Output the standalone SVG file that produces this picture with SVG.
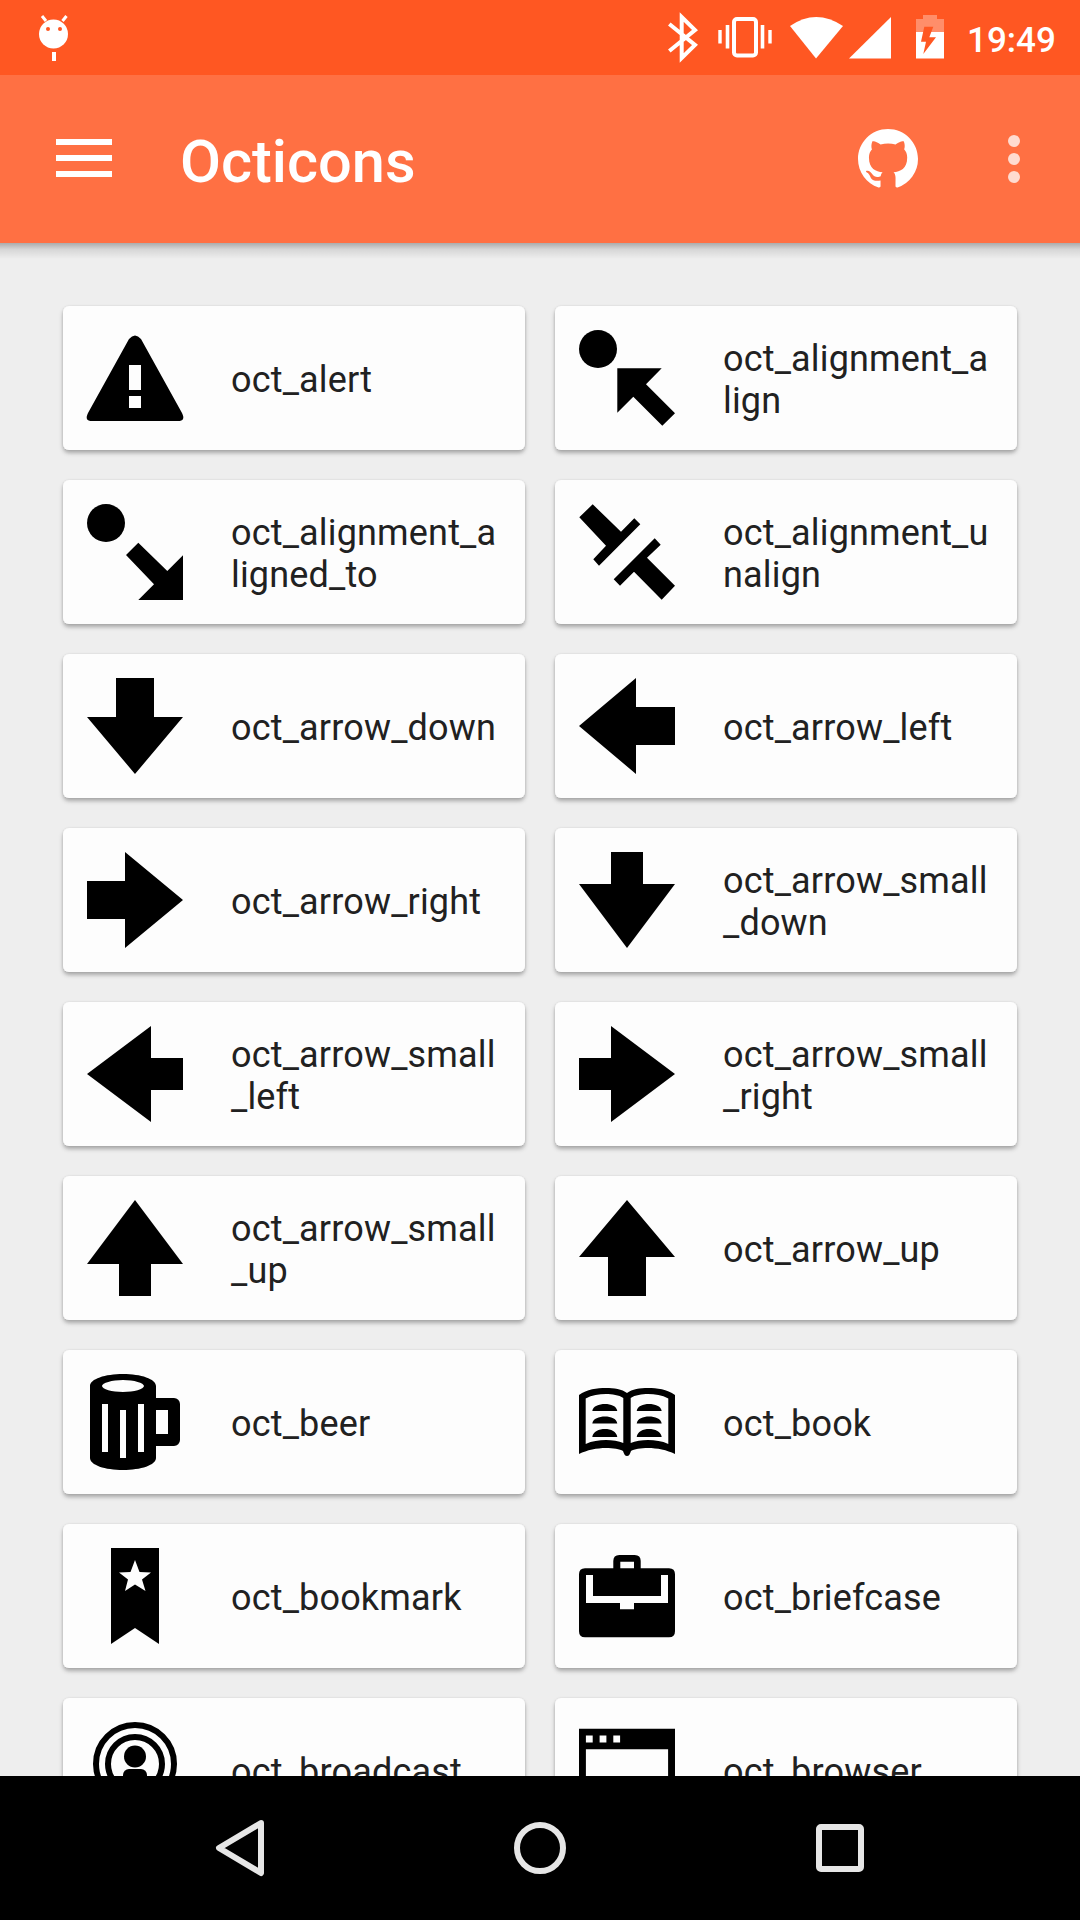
<svg xmlns="http://www.w3.org/2000/svg" width="1080" height="1920" viewBox="0 0 1080 1920">
<style>
.card{fill:#fdfdfd;filter:url(#cardShadow)}
.lbl{font-family:Roboto,"Liberation Sans",sans-serif;font-size:36px;letter-spacing:0.17px;fill:#212121}
.ink{fill:#000}
.paper{fill:#fdfdfd}
.w{fill:#fff}
.nav{fill:none;stroke:#e6e6e6;stroke-width:6}
</style>
<defs>
<filter id="cardShadow" x="-5%" y="-10%" width="110%" height="125%">
<feDropShadow dx="0" dy="3" stdDeviation="2.2" flood-color="#000" flood-opacity="0.28"/>
<feDropShadow dx="0" dy="0" stdDeviation="0.8" flood-color="#000" flood-opacity="0.1"/>
</filter>
<linearGradient id="barShadow" x1="0" y1="0" x2="0" y2="1">
<stop offset="0" stop-color="#000" stop-opacity="0.28"/>
<stop offset="0.4" stop-color="#000" stop-opacity="0.1"/>
<stop offset="1" stop-color="#000" stop-opacity="0"/>
</linearGradient>
</defs>

<rect width="1080" height="1920" fill="#eeeeee"/>

<g id="oct_alert"><rect class="card" x="63" y="306" width="462" height="144" rx="6"/>
<path class="ink" fill-rule="evenodd" transform="translate(87 330)" d="M42 9Q48 2 54 9L95 83Q99 91 91 91H5Q-3 91 1 83ZM42 35V60H54V35ZM42 66V78H54V66Z"/>
<text class="lbl" x="231" y="392">oct_alert</text></g>

<g id="oct_alignment_align"><rect class="card" x="555" y="306" width="462" height="144" rx="6"/>
<g transform="translate(579 330)"><circle class="ink" cx="19" cy="19" r="19"/><polygon class="ink" points="38.3,38.3 82.7,38.3 67,54.3 96,83.3 83.3,95.7 54.3,66.7 38.3,82.7"/></g>
<text class="lbl" x="723" y="371">oct_alignment_a</text><text class="lbl" x="723" y="413">lign</text></g>

<g id="oct_alignment_aligned_to"><rect class="card" x="63" y="480" width="462" height="144" rx="6"/>
<g transform="translate(87 504)"><circle class="ink" cx="19" cy="19" r="19"/><polygon class="ink" points="51.3,38.7 80.3,67 96,51.3 96,96 51.3,96 67,80.3 39,51"/></g>
<text class="lbl" x="231" y="545">oct_alignment_a</text><text class="lbl" x="231" y="587">ligned_to</text></g>

<g id="oct_alignment_unalign"><rect class="card" x="555" y="480" width="462" height="144" rx="6"/>
<g transform="translate(579 504)"><polygon class="ink" points="13.7,0.3 42,27.7 55.3,14.3 61.3,20.3 20,61.7 14.3,55.3 27,41.7 0.3,13.3"/><polygon class="ink" points="75.7,34.3 81.7,40.7 68,53.7 96,81.7 82.7,95.7 55,67.7 41,81.7 34.7,75.3"/></g>
<text class="lbl" x="723" y="545">oct_alignment_u</text><text class="lbl" x="723" y="587">nalign</text></g>

<g id="oct_arrow_down"><rect class="card" x="63" y="654" width="462" height="144" rx="6"/>
<polygon class="ink" transform="translate(87 678)" points="29,0 67,0 67,39 96,39 48,96 0,39 29,39"/>
<text class="lbl" x="231" y="740">oct_arrow_down</text></g>

<g id="oct_arrow_left"><rect class="card" x="555" y="654" width="462" height="144" rx="6"/>
<polygon class="ink" transform="translate(579 678)" points="0,48 57,0 57,29 96,29 96,67 57,67 57,96"/>
<text class="lbl" x="723" y="740">oct_arrow_left</text></g>

<g id="oct_arrow_right"><rect class="card" x="63" y="828" width="462" height="144" rx="6"/>
<polygon class="ink" transform="translate(87 852)" points="0,29 38,29 38,0 96,48 38,96 38,67 0,67"/>
<text class="lbl" x="231" y="914">oct_arrow_right</text></g>

<g id="oct_arrow_small_down"><rect class="card" x="555" y="828" width="462" height="144" rx="6"/>
<polygon class="ink" transform="translate(579 852)" points="32,0 64,0 64,32 96,32 48,96 0,32 32,32"/>
<text class="lbl" x="723" y="893">oct_arrow_small</text><text class="lbl" x="723" y="935">_down</text></g>

<g id="oct_arrow_small_left"><rect class="card" x="63" y="1002" width="462" height="144" rx="6"/>
<polygon class="ink" transform="translate(87 1026)" points="0,48 64,0 64,32 96,32 96,64 64,64 64,96"/>
<text class="lbl" x="231" y="1067">oct_arrow_small</text><text class="lbl" x="231" y="1109">_left</text></g>

<g id="oct_arrow_small_right"><rect class="card" x="555" y="1002" width="462" height="144" rx="6"/>
<polygon class="ink" transform="translate(579 1026)" points="0,32 32,32 32,0 96,48 32,96 32,64 0,64"/>
<text class="lbl" x="723" y="1067">oct_arrow_small</text><text class="lbl" x="723" y="1109">_right</text></g>

<g id="oct_arrow_small_up"><rect class="card" x="63" y="1176" width="462" height="144" rx="6"/>
<polygon class="ink" transform="translate(87 1200)" points="48,0 96,64 64,64 64,96 32,96 32,64 0,64"/>
<text class="lbl" x="231" y="1241">oct_arrow_small</text><text class="lbl" x="231" y="1283">_up</text></g>

<g id="oct_arrow_up"><rect class="card" x="555" y="1176" width="462" height="144" rx="6"/>
<polygon class="ink" transform="translate(579 1200)" points="48,0 96,57 67,57 67,96 29,96 29,57 0,57"/>
<text class="lbl" x="723" y="1262">oct_arrow_up</text></g>

<g id="oct_beer"><rect class="card" x="63" y="1350" width="462" height="144" rx="6"/>
<path class="ink" fill-rule="evenodd" transform="translate(87 1374)" d="M3 12C3 5 18 0 36 0S69 5 69 12V24H87A6 6 0 0 1 93 30V66A6 6 0 0 1 87 72H69V84C69 91 54 96 36 96S3 91 3 84ZM15 12C15 15 25 18 36 18S57 15 57 12 47 6 36 6 15 9 15 12ZM15 30V78H21V30ZM33 36V84H39V36ZM51 30V78H57V30ZM69 36V60H81V36Z"/>
<text class="lbl" x="231" y="1436">oct_beer</text></g>

<g id="oct_book"><rect class="card" x="555" y="1350" width="462" height="144" rx="6"/>
<g transform="translate(579 1374)">
<path class="ink" fill-rule="evenodd" d="M0 21C8 15 18 14 27 14 35 14 43 15 48 19 53 15 61 14 69 14 78 14 88 15 96 21V80C88 76 78 74 69 74 62 74 55 75 52 77 51 80 50 82 48 82 46 82 45 80 44 77 41 75 34 74 27 74 18 74 8 76 0 80ZM6.700 24.500V70C13 67 20 66 27 66 33 66 40 67 44.300 69V24C40 21 33 20 27 20 20 20 13 21 6.700 24.500ZM51.700 24V69C56 67 63 66 69 66 76 66 83 67 89.300 70V24.500C83 21 76 20 69 20 63 20 56 21 51.700 24Z"/>
<path class="ink" d="M13.300 37C14 32 20 30 26 30S37.500 32 38.300 37ZM13.300 49.500C14 44.500 20 42.500 26 42.500S37.500 44.500 38.300 49.500ZM13.300 63C14 57.500 20 55 26 55S37.500 57.500 38.300 63ZM57.700 37C58.500 32 64 30 70 30S82 32 82.700 37ZM57.700 49.500C58.500 44.500 64 42.500 70 42.500S82 44.500 82.700 49.500ZM57.700 63C58.500 57.500 64 55 70 55S82 57.500 82.700 63Z"/>
</g>
<text class="lbl" x="723" y="1436">oct_book</text></g>

<g id="oct_bookmark"><rect class="card" x="63" y="1524" width="462" height="144" rx="6"/>
<g transform="translate(87 1548)"><polygon class="ink" points="24,0 72,0 72,96 48,80 24,96"/><polygon class="paper" points="48,12 52.500,24 64,24.500 55,31.500 58.500,43 48,36.500 38,43 41,31.500 32,24.500 43.500,24"/></g>
<text class="lbl" x="231" y="1610">oct_bookmark</text></g>

<g id="oct_briefcase"><rect class="card" x="555" y="1524" width="462" height="144" rx="6"/>
<g transform="translate(579 1548)">
<path class="ink" fill-rule="evenodd" d="M34.300 20.300V13Q34.300 7 40.300 7H55.700Q61.700 7 61.700 13V20.300H90Q96 20.300 96 26.300V83.300Q96 89.300 90 89.300H6Q0 89.300 0 83.300V26.300Q0 20.300 6 20.300ZM41.300 13.700V20.300H55V13.700Z"/>
<polygon class="paper" points="7,27 14,27 14,48 82,48 82,27 89,27 89,55 55,55 55,61.300 41,61.300 41,55 7,55"/>
</g>
<text class="lbl" x="723" y="1610">oct_briefcase</text></g>

<g id="oct_broadcast"><rect class="card" x="63" y="1698" width="462" height="144" rx="6"/>
<g transform="translate(87 1722)">
<circle cx="48" cy="42" r="39" fill="none" stroke="#000" stroke-width="6"/>
<circle cx="48" cy="42" r="27" fill="none" stroke="#000" stroke-width="6"/>
<circle class="ink" cx="48" cy="34.500" r="11"/>
<rect class="ink" x="36" y="47" width="24" height="20" rx="6"/>
</g>
<text class="lbl" x="231" y="1784">oct_broadcast</text></g>

<g id="oct_browser"><rect class="card" x="555" y="1698" width="462" height="144" rx="6"/>
<g transform="translate(579 1722)">
<path class="ink" fill-rule="evenodd" d="M0 6.700H96V90H0ZM6.900 27.300V83H89.100V27.300ZM6.900 13.600V20.600H13.700V13.600ZM20.600 13.600V20.600H27.400V13.600ZM34.300 13.600V20.600H41.100V13.600Z"/>
</g>
<text class="lbl" x="723" y="1784">oct_browser</text></g>

<g id="toolbar">
<rect x="0" y="243" width="1080" height="16" fill="url(#barShadow)"/>
<rect x="0" y="75" width="1080" height="168" fill="#ff7043"/>
<rect class="w" x="56" y="139" width="56" height="6"/>
<rect class="w" x="56" y="155" width="56" height="6"/>
<rect class="w" x="56" y="171" width="56" height="6"/>
<text x="180" y="182" font-family="Roboto,'Liberation Sans',sans-serif" font-size="59.500" font-weight="500" fill="#fff">Octicons</text>
<path class="w" transform="translate(858 129) scale(3.75)" d="M8 0C3.580 0 0 3.580 0 8c0 3.540 2.290 6.530 5.470 7.590.4.070.55-.17.55-.38 0-.19-.01-.82-.01-1.490-2.010.37-2.530-.49-2.690-.94-.09-.23-.48-.94-.82-1.130-.28-.15-.68-.52-.01-.53.63-.01 1.080.58 1.230.82.72 1.210 1.870.87 2.330.66.070-.52.28-.87.51-1.070-1.780-.2-3.640-.89-3.640-3.950 0-.87.31-1.590.82-2.150-.08-.2-.36-1.020.08-2.120 0 0 .67-.21 2.200.82.64-.18 1.320-.27 2-.27.68 0 1.360.09 2 .27 1.530-1.040 2.200-.82 2.200-.82.44 1.100.16 1.920.08 2.120.51.56.82 1.270.82 2.150 0 3.070-1.870 3.750-3.650 3.950.29.25.54.73.54 1.480 0 1.070-.01 1.930-.01 2.200 0 .21.15.46.55.38A8.013 8.013 0 0 0 16 8c0-4.420-3.580-8-8-8z"/>
<g fill="#fff" fill-opacity="0.75"><circle cx="1014" cy="141" r="6"/><circle cx="1014" cy="159" r="6"/><circle cx="1014" cy="177" r="6"/></g>
</g>

<g id="statusbar">
<rect x="0" y="0" width="1080" height="75" fill="#ff5722"/>
<g id="android">
<path d="M42 16L46 21M66.500 16L62.500 21" stroke="#fff" stroke-width="3" fill="none"/>
<circle class="w" cx="53.500" cy="34" r="14.500"/>
<circle cx="48" cy="29" r="2" fill="#ff5722"/><circle cx="60" cy="29" r="2" fill="#ff5722"/>
<rect class="w" x="52" y="52" width="4" height="9"/>
</g>
<path id="bluetooth" d="M669.300 24L695 45 681.700 58V17L695 30 669.300 51" fill="none" stroke="#fff" stroke-width="4"/>
<g id="vibrate">
<rect x="734" y="19" width="22" height="36.500" rx="3" fill="none" stroke="#fff" stroke-width="4"/>
<rect class="w" x="718.300" y="30" width="3.400" height="13.500"/><rect class="w" x="725.700" y="25" width="3.600" height="23.500"/>
<rect class="w" x="760.700" y="25" width="3.600" height="23.500"/><rect class="w" x="768.300" y="30" width="3.400" height="13.500"/>
</g>
<path id="wifi" class="w" d="M790 26Q816 8 843 26L816 58.500Z"/>
<polygon id="signal" class="w" points="891,17 891,58.500 849,58.500"/>
<g id="battery">
<path d="M923 15H937V19H944V32H916V19H923Z" fill="#fff" fill-opacity="0.33"/>
<rect class="w" x="916" y="32" width="28" height="26.500"/>
<polygon fill="#ff5722" points="924.300,26.700 933.300,26.700 929.300,37.300 936,37.300 923.300,54 926,41.700 921,41.700"/>
</g>
<text x="967" y="52" font-family="Roboto,'Liberation Sans',sans-serif" font-size="35" font-weight="500" fill="#fff">19:49</text>
</g>

<g id="navbar">
<rect x="0" y="1776" width="1080" height="144" fill="#000"/>
<path class="nav" stroke-linejoin="round" d="M261 1823L219 1848 261 1873Z"/>
<circle class="nav" cx="540" cy="1848" r="23"/>
<rect class="nav" x="819" y="1827" width="42" height="42" rx="2"/>
</g>
</svg>
